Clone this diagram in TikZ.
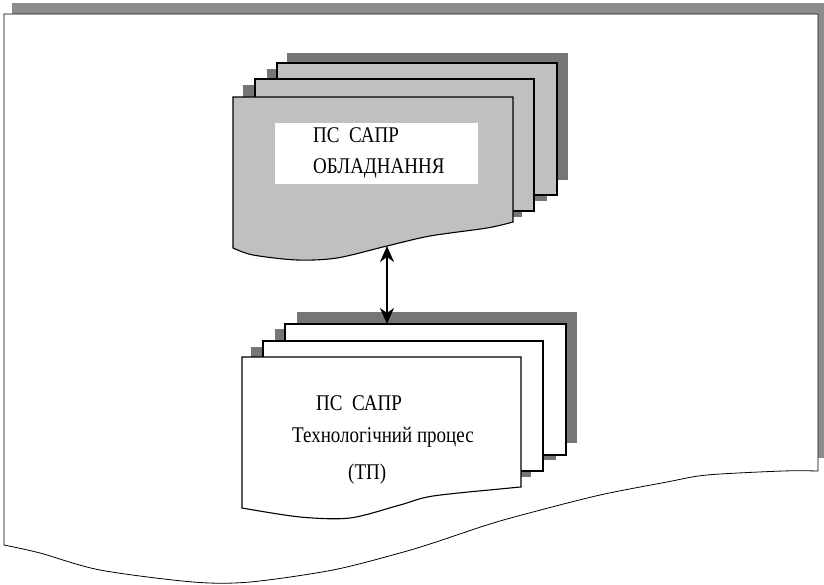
\documentclass[tikz,border=0pt]{standalone}
\usepackage{fontspec}
\setmainfont{Liberation Serif}
\usetikzlibrary{arrows.meta}

\definecolor{pagegray}{RGB}{192,192,192}
\definecolor{shadegray}{RGB}{118,118,118}
\definecolor{bandgray}{RGB}{140,140,140}
\newcommand{\tallcap}[1]{\scalebox{1}[1.18]{#1}}

\tikzset{
  sheet/.style={draw=black, line width=1.1pt},
  caption/.style={font=\fontsize{19}{22}\selectfont, anchor=west, inner sep=0pt},
}

\begin{document}
\begin{tikzpicture}[x=1pt, y=-1pt, >={Stealth[length=16pt,width=14pt,inset=5pt]}]
  \useasboundingbox (0,0) rectangle (824,585);
  % outer sheet with its shadow
  \fill[bandgray] (12,3) rectangle (824,14);
  \fill[bandgray] (818,3) rectangle (824,458);
  \filldraw[fill=white, draw=black, line width=0.8pt] (818,14) -- (4,14) -- (4,545)
    -- plot[smooth, tension=0.5] coordinates {(4,545) (40,553) (100,570) (193,582) (250,582)
       (333,570) (400,553) (433,543) (490,524) (533,512) (600,495) (667,482) (707,475) (783,471) (818,471)}
    -- cycle;

  % upper stack (equipment)
  \fill[shadegray] (287,53) rectangle (568,180);
  \fill[shadegray] (267,69) rectangle (547,201);
  \filldraw[sheet, fill=pagegray] (277,63) rectangle (557,195);
  \fill[shadegray] (243,85) rectangle (522,217);
  \filldraw[sheet, fill=pagegray] (255,79) rectangle (534,211);
  \filldraw[sheet, fill=pagegray] (233,97) -- (513,97) -- (513,222)
    -- plot[smooth, tension=0.5] coordinates {(513,222) (487,228) (430,236) (387,246)
       (337,258) (297,260) (253,255) (233,248)}
    -- cycle;
  \fill[white] (275,123) rectangle (478,184);
  \node[caption] (upName) at (313,135) {\tallcap{ПС~~САПР}};
  \node[caption] (upTitle) at (313,168) {\tallcap{ОБЛАДНАННЯ}};

  % lower stack (process)
  \fill[shadegray] (297,312) rectangle (577,443);
  \fill[shadegray] (275,329) rectangle (556,460);
  \filldraw[sheet, fill=white] (285,324) rectangle (566,455);
  \fill[shadegray] (251,347) rectangle (531,477);
  \filldraw[sheet, fill=white] (263,341) rectangle (543,471);
  \filldraw[sheet, fill=white] (242,357) -- (521,357) -- (521,487)
    -- plot[smooth, tension=0.5] coordinates {(521,487) (510,488) (433,496) (400,505)
       (350,518) (300,517) (242,508)}
    -- cycle;
  \node[caption] (lowName) at (316,403) {\tallcap{ПС~~САПР}};
  \node[caption] (lowTitle) at (292,437) {\tallcap{Технологічний процес}};
  \node[caption] (lowAbbr) at (348,474) {\tallcap{(ТП)}};

  % link between the stacks
  \coordinate (upTip) at (387,246);
  \coordinate (lowTip) at (387,324);
  \draw[<->, line width=1.2pt] (upTip) -- (lowTip);
\end{tikzpicture}
\end{document}
